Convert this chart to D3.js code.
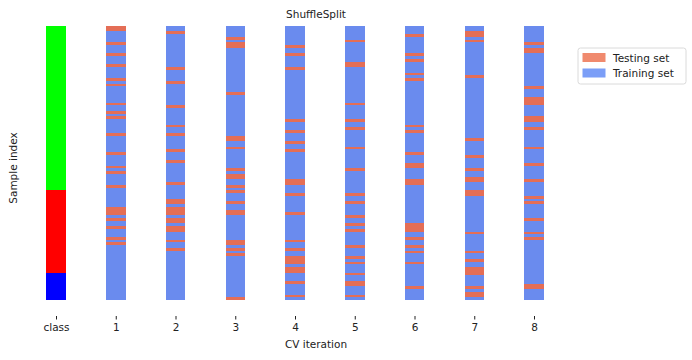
<!DOCTYPE html>
<html><head><meta charset="utf-8">
<script src="https://cdn.jsdelivr.net/npm/d3@7"></script>
<style>body{margin:0;background:#fff}svg text{font-family:"DejaVu Sans",sans-serif;fill:#222}</style>
</head><body><svg id="c" width="692" height="360"></svg>
<script>
const title = "ShuffleSplit";
const xLabels = ["class","1","2","3","4","5","6","7","8"];
const nSamples = 100;
const classNames = [0, 1, 2];
const classCounts = [10, 30, 60];
const classColors = ["#0000ff", "#ff0000", "#00ff00"];
const test1 = [99,98,93,89,85,80,78,71,68,66,60,53,48,46,41,33,32,31,29,26,22,20];
const test2 = [97,84,79,70,63,60,54,50,42,36,35,33,32,31,29,28,26,25,21,18];
const test3 = [95,93,92,75,59,58,55,47,45,44,41,39,35,32,31,21,20,18,16,0];
const test4 = [92,89,84,65,61,57,54,43,42,38,31,21,18,15,14,13,11,10,6,1];
const test5 = [94,86,85,71,65,62,55,47,38,35,30,27,25,19,15,13,9,6,5,1];
const test6 = [96,89,87,82,80,63,61,53,49,48,43,42,27,26,25,22,19,17,13,4];
const test7 = [97,96,94,81,58,52,47,44,43,39,38,24,17,14,11,10,9,4,2,1];
const test8 = [93,91,90,77,73,72,71,66,65,62,55,49,43,37,35,29,24,22,5,4];
const legendLabels = ["Testing set", "Training set"];
const testColor = "#e46e56", trainColor = "#6a8bee";
const legendColors = ["#f08a6e", "#7b9ef7"];

const splits = [test1,test2,test3,test4,test5,test6,test7,test8];
const svg = d3.select("#c");
const x = d3.scalePoint().domain(xLabels).range([56, 534]);
const y = d3.scaleLinear().domain([0, nSamples]).range([300, 26]);
const colW = 19.5;

// class column
let classOf = [];
classCounts.forEach((n, c) => { for (let i = 0; i < n; i++) classOf.push(c); });
svg.append("g").attr("shape-rendering", "crispEdges").selectAll("rect").data(classOf).join("rect")
  .attr("x", x("class") - colW/2).attr("width", colW)
  .attr("y", (d, i) => y(i + 1)).attr("height", (d, i) => y(i) - y(i + 1))
  .attr("fill", d => classColors[d]);

// CV splits
splits.forEach((tests, s) => {
  const set = new Set(tests);
  const samples = d3.range(nSamples).map(i => ({i, test: set.has(i)}));
  svg.append("g").attr("shape-rendering", "crispEdges").selectAll("rect").data(samples).join("rect")
    .attr("x", x(xLabels[s + 1]) - colW/2).attr("width", colW)
    .attr("y", d => y(d.i + 1)).attr("height", d => y(d.i) - y(d.i + 1))
    .attr("fill", d => d.test ? testColor : trainColor);
});

// x axis
const ax = svg.append("g").attr("transform", "translate(0,316)")
  .call(d3.axisBottom(x).tickSize(3.5).tickPadding(4));
ax.select(".domain").remove();
ax.selectAll("text").attr("font-size", "10.5px").attr("fill", "#222").attr("font-family", "DejaVu Sans");
ax.selectAll("line").attr("stroke", "#222");

svg.append("text").attr("x", 316).attr("y", 348).attr("text-anchor", "middle")
  .attr("font-size", "10.5px").text("CV iteration");
svg.append("text").attr("transform", "translate(17,168) rotate(-90)").attr("text-anchor", "middle")
  .attr("font-size", "10.5px").text("Sample index");
svg.append("text").attr("x", 316).attr("y", 18).attr("text-anchor", "middle")
  .attr("font-size", "10.5px").text(title);

// legend
const lg = svg.append("g").attr("transform", "translate(578,48)");
lg.append("rect").attr("width", 108).attr("height", 36).attr("rx", 2.5)
  .attr("fill", "#fff").attr("stroke", "#d0d0d0").attr("stroke-width", 0.8);
legendLabels.forEach((t, i) => {
  lg.append("rect").attr("x", 4.5).attr("y", 5 + i * 15.5).attr("width", 23).attr("height", 9)
    .attr("fill", legendColors[i]);
  lg.append("text").attr("x", 35).attr("y", 13.5 + i * 15.5).attr("font-size", "10.5px").text(t);
});
</script></body></html>
